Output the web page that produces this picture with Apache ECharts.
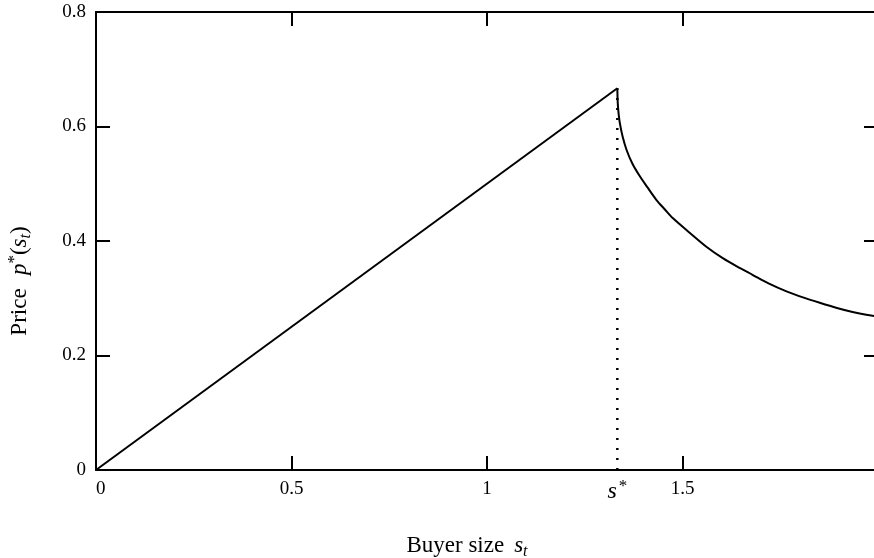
<!DOCTYPE html>
<html>
<head>
<meta charset="utf-8">
<script src="https://cdn.jsdelivr.net/npm/echarts@6/dist/echarts.min.js"></script>
<style>
html, body { margin: 0; padding: 0; background: #fff; }
#chartDiv { width: 874px; height: 558px; }
</style>
</head>
<body>
<div id="chartDiv"></div>
<script>
// 数据
var xTicks = [0, 0.5, 1, 1.5, 2];
var yTicks = [0, 0.2, 0.4, 0.6, 0.8];
var sStar = 1.3333;
var pStar = 0.6667;
// rising part p = s/2
var riseS = [0, 1.3333];
var riseP = [0, 0.6667];
// falling part
var fallS = [1.3333, 1.3345, 1.337, 1.340, 1.347, 1.357, 1.372, 1.391, 1.410, 1.433, 1.455, 1.475, 1.519, 1.561, 1.603, 1.646, 1.679, 1.720, 1.766, 1.810, 1.851, 1.895, 1.935, 1.970, 2.0];
var fallP = [0.6667, 0.640, 0.620, 0.605, 0.582, 0.559, 0.535, 0.513, 0.494, 0.472, 0.455, 0.440, 0.414, 0.390, 0.370, 0.353, 0.341, 0.326, 0.312, 0.301, 0.292, 0.283, 0.276, 0.271, 0.268];

function pairs(a, b) {
    var out = [];
    for (var i = 0; i < a.length; i++) out.push([a[i], b[i]]);
    return out;
}

var font = '"Liberation Serif", "DejaVu Serif", serif';
var tickFmt = function (v) {
    if (v === 0) return '0';
    return String(Math.round(v * 10) / 10);
};
var frameLine = { onZero: false, lineStyle: { color: '#000', width: 2 } };
var frameTick = { inside: true, length: 14, lineStyle: { color: '#000', width: 2 } };

var option = {
    animation: false,
    backgroundColor: '#fff',
    grid: { left: 96, right: -4, top: 12, bottom: 88, outerBoundsMode: 'none', containLabel: false },
    xAxis: [
        {
            type: 'value', min: 0, max: 2, interval: 0.5, position: 'bottom',
            axisLine: frameLine,
            axisTick: frameTick,
            axisLabel: { color: '#000', fontFamily: font, fontSize: 19, margin: 10, formatter: tickFmt, showMaxLabel: true, alignMinLabel: 'left' },
            splitLine: { show: false },
            name: '{n|Buyer size}   {i|s}{sub|t}',
            nameLocation: 'middle',
            nameGap: 62,
            nameTextStyle: {
                padding: [0, 40, 0, 0],
                rich: {
                    n: { fontFamily: font, fontSize: 23, color: '#000' },
                    i: { fontFamily: font, fontSize: 23, fontStyle: 'italic', color: '#000' },
                    sub: { fontFamily: font, fontSize: 16, fontStyle: 'italic', color: '#000', verticalAlign: 'bottom', padding: [12, 0, 0, 0] }
                }
            }
        },
        {
            type: 'value', min: 0, max: 2, interval: 0.5, position: 'top',
            axisLine: frameLine,
            axisTick: frameTick,
            axisLabel: { show: false },
            splitLine: { show: false }
        }
    ],
    yAxis: [
        {
            type: 'value', min: 0, max: 0.8, interval: 0.2, position: 'left',
            axisLine: { show: true, onZero: false, lineStyle: { color: '#000', width: 2 } },
            axisTick: { show: true, inside: true, length: 14, lineStyle: { color: '#000', width: 2 } },
            axisLabel: { color: '#000', fontFamily: font, fontSize: 19, margin: 10, formatter: tickFmt },
            splitLine: { show: false },
            name: '{n|Price}    {i|p}{sup|*}{n|(}{i|s}{sub|t}{n|)}',
            nameLocation: 'middle',
            nameRotate: 90,
            nameGap: 62,
            nameTextStyle: {
                padding: [0, 80, 0, 0],
                rich: {
                    n: { fontFamily: font, fontSize: 23, color: '#000' },
                    i: { fontFamily: font, fontSize: 23, fontStyle: 'italic', color: '#000' },
                    sup: { fontFamily: font, fontSize: 17, color: '#000', verticalAlign: 'top', padding: [0, 0, 10, 0] },
                    sub: { fontFamily: font, fontSize: 16, fontStyle: 'italic', color: '#000', verticalAlign: 'bottom', padding: [12, 0, 0, 0] }
                }
            }
        },
        {
            type: 'value', min: 0, max: 0.8, interval: 0.2, position: 'right',
            axisLine: { show: true, onZero: false, lineStyle: { color: '#000', width: 2 } },
            axisTick: { show: true, inside: true, length: 14, lineStyle: { color: '#000', width: 2 } },
            axisLabel: { show: false },
            splitLine: { show: false }
        }
    ],
    series: [
        {
            name: 'rise', type: 'line', symbol: 'none',
            lineStyle: { color: '#000', width: 2 },
            data: pairs(riseS, riseP)
        },
        {
            name: 'fall', type: 'line', symbol: 'none', smooth: 0.3,
            lineStyle: { color: '#000', width: 2 },
            data: pairs(fallS, fallP)
        },
        {
            name: 'sstar', type: 'line', symbol: 'none',
            lineStyle: { color: '#000', width: 2.5, type: [2, 8] },
            data: [
                {
                    value: [sStar, 0],
                    symbol: 'circle', symbolSize: 0,
                    label: {
                        show: true, position: 'bottom', distance: 8,
                        formatter: '{i|s}{sup|*}',
                        rich: {
                            i: { fontFamily: font, fontSize: 24, fontStyle: 'italic', color: '#000' },
                            sup: { fontFamily: font, fontSize: 17, color: '#000', verticalAlign: 'top', padding: [0, 0, 10, 2] }
                        }
                    }
                },
                [sStar, pStar]
            ]
        }
    ]
};

var myChart = echarts.init(document.getElementById('chartDiv'));
myChart.setOption(option);
</script>
</body>
</html>
